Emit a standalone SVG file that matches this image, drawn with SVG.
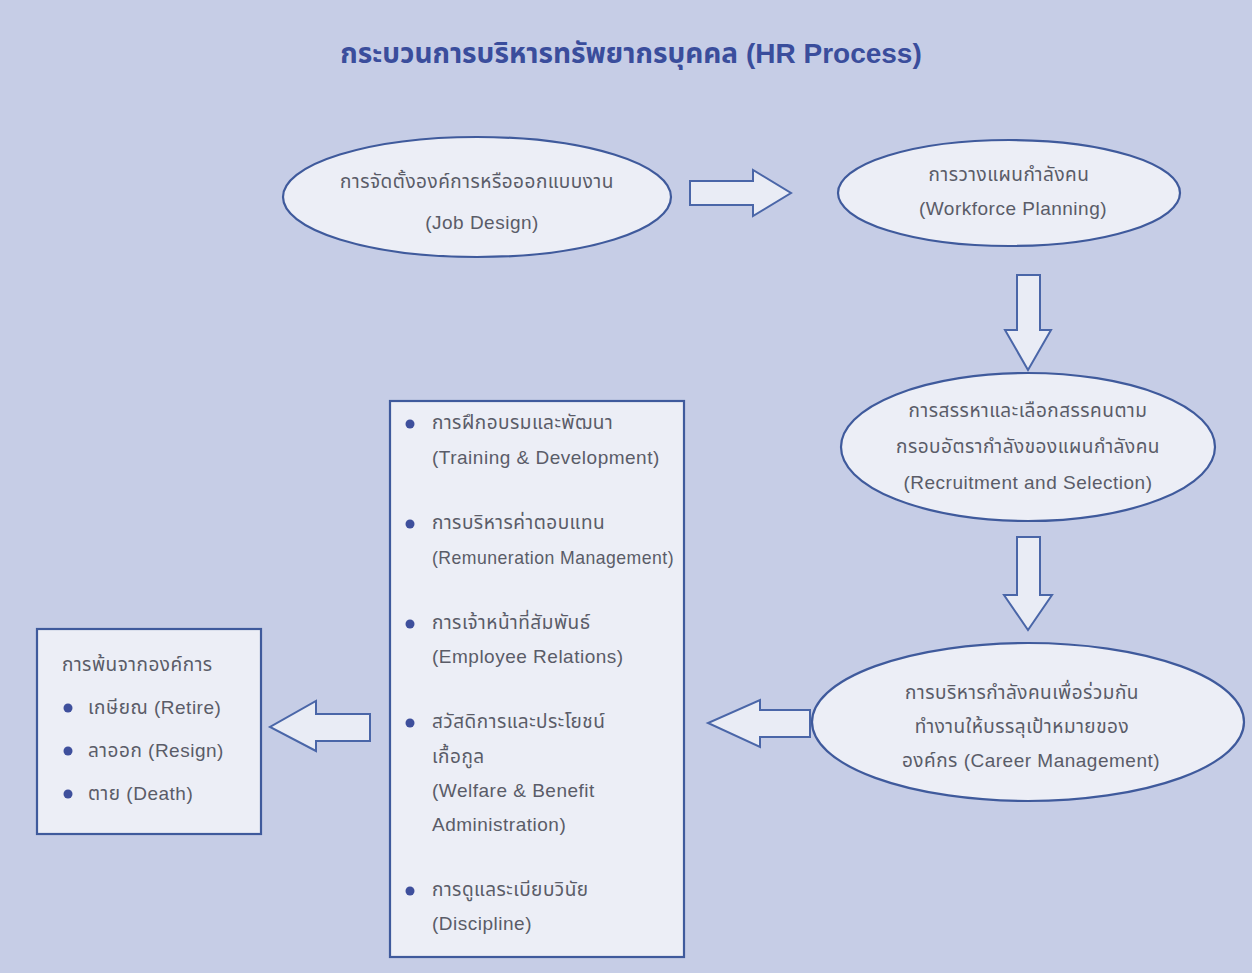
<svg xmlns="http://www.w3.org/2000/svg" width="1252" height="973" viewBox="0 0 1252 973">
<style>
.node{fill:#eceef6;stroke:#3f5a9c;stroke-width:2.2}
.arrow{fill:#e9ecf5;stroke:#4a66a8;stroke-width:2}
.t{font-family:"Liberation Sans","Noto Sans Thai","Noto Sans",sans-serif;font-size:19px;letter-spacing:0.5px;fill:#5a5c68}
.c{text-anchor:middle}
.title{font-family:"Liberation Sans","Noto Sans Thai","Noto Sans",sans-serif;font-size:28px;font-weight:bold;fill:#3a4d9c;text-anchor:middle}
.dot{fill:#3e4f9c}
</style>
<rect width="1252" height="973" fill="#c6cde6"/>
<text class="title" x="631" y="63">กระบวนการบริหารทรัพยากรบุคคล (HR Process)</text>

<g id="job-design">
<ellipse class="node" cx="477" cy="197" rx="194" ry="60"/>
<text class="t c" x="477" y="188">การจัดตั้งองค์การหรือออกแบบงาน</text>
<text class="t c" x="482" y="229">(Job Design)</text>
</g>

<g id="workforce-planning">
<ellipse class="node" cx="1009" cy="193" rx="171" ry="53"/>
<text class="t c" x="1009" y="181">การวางแผนกำลังคน</text>
<text class="t c" x="1013" y="215">(Workforce Planning)</text>
</g>

<g id="recruitment">
<ellipse class="node" cx="1028" cy="447" rx="187" ry="74"/>
<text class="t c" x="1028" y="417">การสรรหาและเลือกสรรคนตาม</text>
<text class="t c" x="1028" y="453">กรอบอัตรากำลังของแผนกำลังคน</text>
<text class="t c" x="1028" y="489">(Recruitment and Selection)</text>
</g>

<g id="career-management">
<ellipse class="node" cx="1028" cy="722" rx="216" ry="79"/>
<text class="t c" x="1022" y="699">การบริหารกำลังคนเพื่อร่วมกัน</text>
<text class="t c" x="1022" y="733">ทำงานให้บรรลุเป้าหมายของ</text>
<text class="t c" x="1031" y="767">องค์กร (Career Management)</text>
</g>

<g id="hr-functions">
<rect class="node" x="390" y="401" width="294" height="556"/>
<circle class="dot" cx="410" cy="424" r="4.5"/>
<text class="t" x="432" y="429">การฝึกอบรมและพัฒนา</text>
<text class="t" x="432" y="464">(Training &amp; Development)</text>
<circle class="dot" cx="410" cy="524" r="4.5"/>
<text class="t" x="432" y="529">การบริหารค่าตอบแทน</text>
<text class="t" x="432" y="564" textLength="242" lengthAdjust="spacingAndGlyphs">(Remuneration Management)</text>
<circle class="dot" cx="410" cy="624" r="4.5"/>
<text class="t" x="432" y="629">การเจ้าหน้าที่สัมพันธ์</text>
<text class="t" x="432" y="663">(Employee Relations)</text>
<circle class="dot" cx="410" cy="723" r="4.5"/>
<text class="t" x="432" y="728">สวัสดิการและประโยชน์</text>
<text class="t" x="432" y="763">เกื้อกูล</text>
<text class="t" x="432" y="797">(Welfare &amp; Benefit</text>
<text class="t" x="432" y="831">Administration)</text>
<circle class="dot" cx="410" cy="891" r="4.5"/>
<text class="t" x="432" y="896">การดูแลระเบียบวินัย</text>
<text class="t" x="432" y="930">(Discipline)</text>
</g>

<g id="separation">
<rect class="node" x="37" y="629" width="224" height="205"/>
<text class="t" x="62" y="671">การพ้นจากองค์การ</text>
<circle class="dot" cx="68" cy="708" r="4.5"/>
<text class="t" x="88" y="714">เกษียณ (Retire)</text>
<circle class="dot" cx="68" cy="751" r="4.5"/>
<text class="t" x="88" y="757">ลาออก (Resign)</text>
<circle class="dot" cx="68" cy="794" r="4.5"/>
<text class="t" x="88" y="800">ตาย (Death)</text>
</g>

<g id="connectors">
<polygon class="arrow" points="690,181 753,181 753,170 791,193 753,216 753,205 690,205"/>
<polygon class="arrow" points="1017,275 1040,275 1040,330 1051,330 1028,370 1005,330 1017,330"/>
<polygon class="arrow" points="1017,537 1040,537 1040,595 1052,595 1028,630 1004,595 1017,595"/>
<polygon class="arrow" points="810,710 760,710 760,700 708,723 760,747 760,737 810,737"/>
<polygon class="arrow" points="370,714 316,714 316,701 270,727 316,751 316,741 370,741"/>
</g>
</svg>
